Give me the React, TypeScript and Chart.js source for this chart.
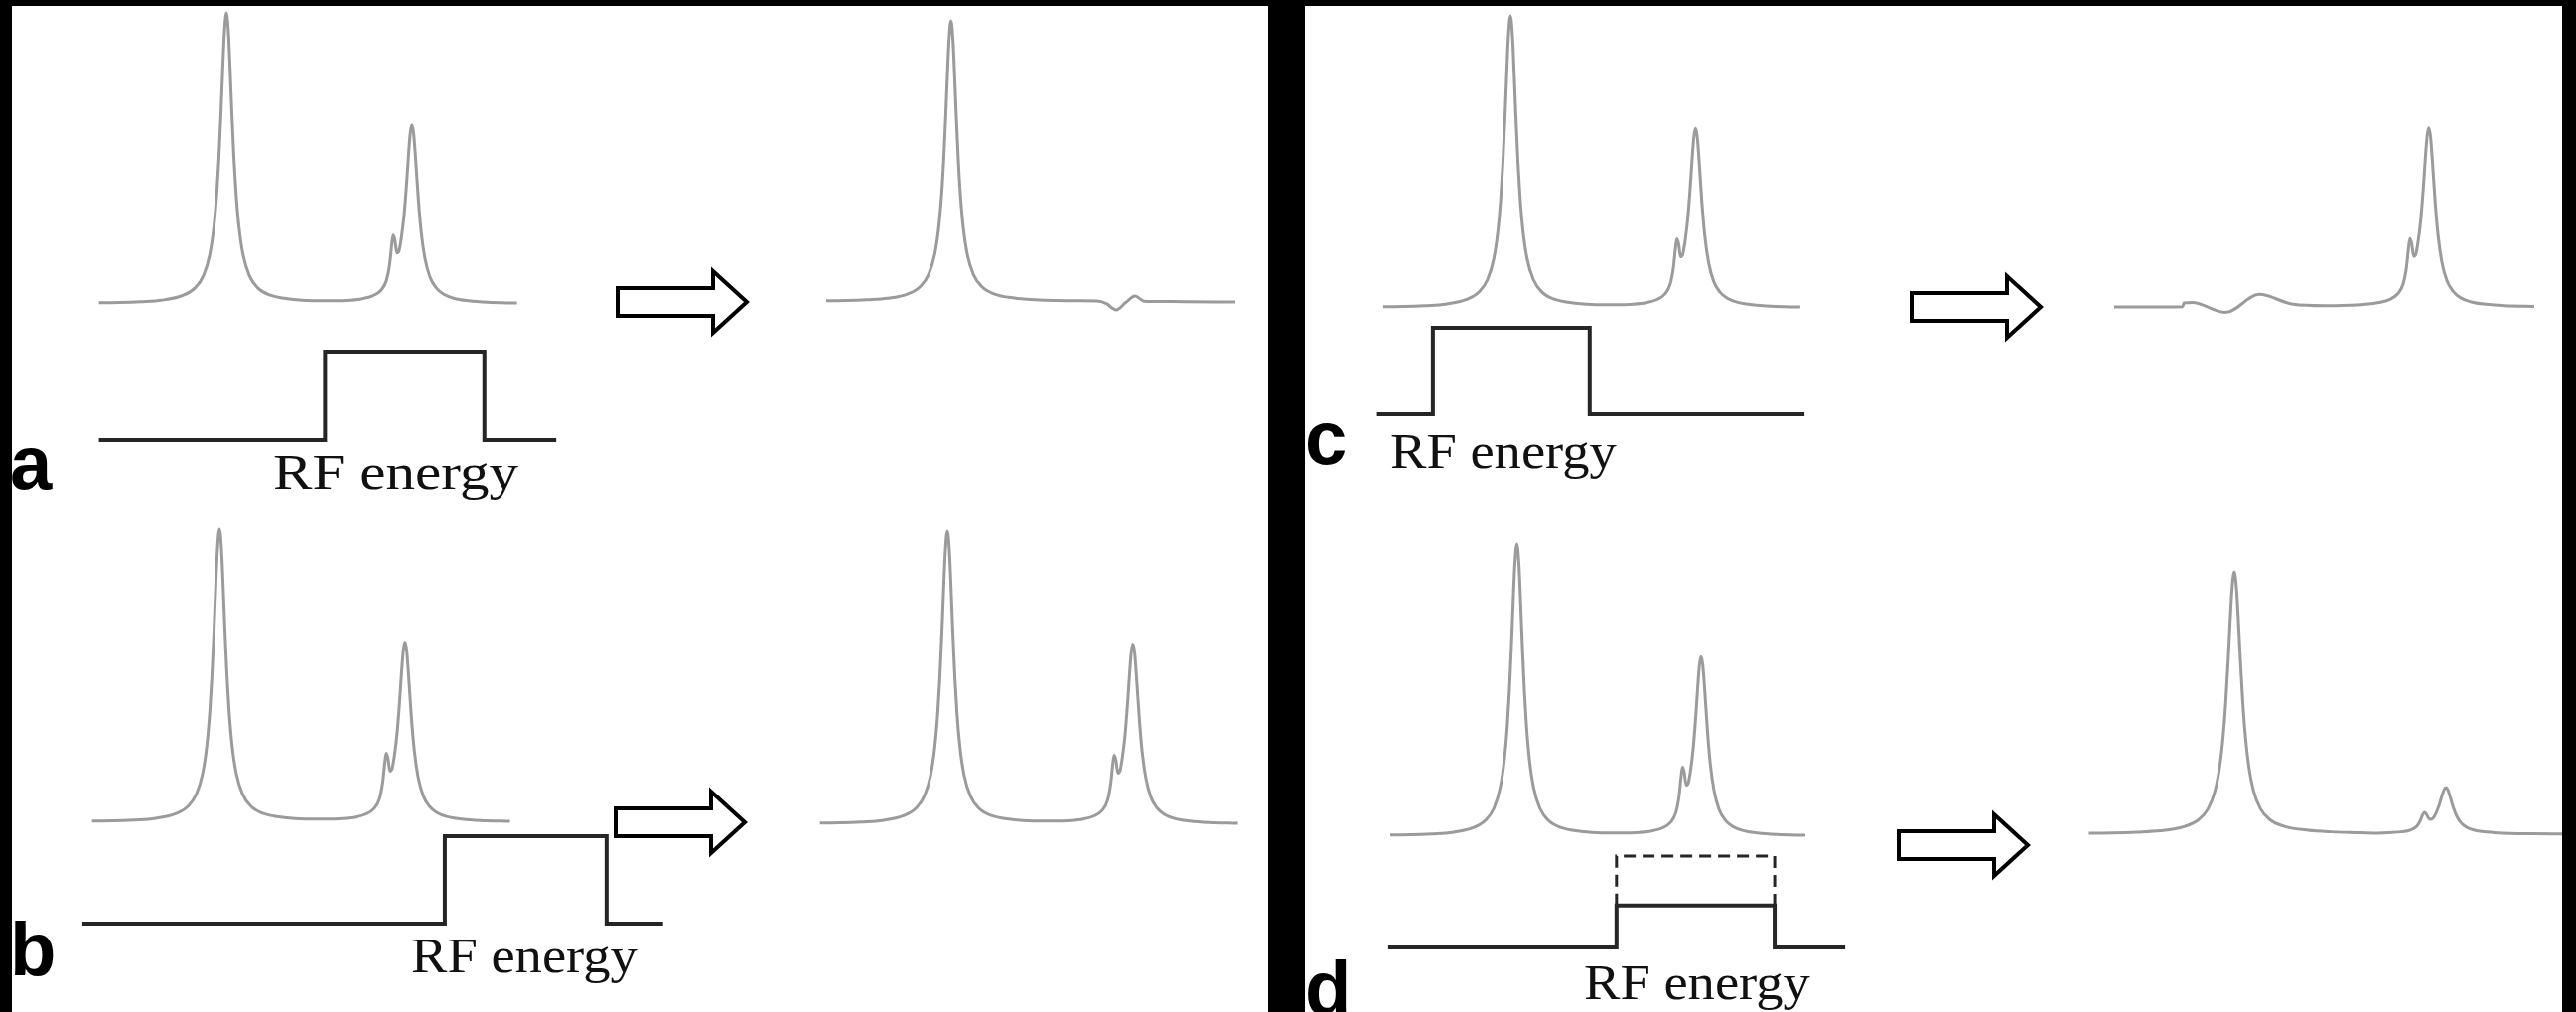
import React, { useEffect, useRef } from "react";
import { Chart, registerables } from "chart.js";

Chart.register(...registerables);

// ---------------- data ----------------
// Spectra: frequency (0–100 across each spectrum) vs signal (% of the tallest peak)
const ORIGINAL_X = [0, 5, 10, 15, 20, 23, 25, 26.5, 27.5, 28.2, 28.7, 29.2, 29.6, 30.0, 30.5, 31.0, 31.4, 31.8, 32.3, 32.8, 33.5, 34.5, 36, 38, 41, 46, 51, 56, 60, 63, 65.5, 67.5, 68.8, 69.6, 70.0, 70.4, 70.8, 71.3, 71.8, 72.4, 73.0, 73.6, 74.1, 74.5, 74.9, 75.3, 75.8, 76.4, 77.1, 78.0, 79.2, 80.7, 82.5, 85, 88.5, 93, 100];
const ORIGINAL_Y = [0.4, 0.5, 0.8, 1.3, 2.9, 5.5, 9.7, 16.8, 26.5, 38, 50, 65.7, 80, 92.8, 100, 92.8, 80, 65.7, 50, 38, 26.5, 16.8, 9.7, 5.5, 3.0, 1.6, 1.1, 1.1, 1.3, 1.8, 2.8, 4.7, 8.1, 14.0, 19.5, 23.6, 22.1, 17.5, 18.2, 23.1, 30.3, 41.1, 51.7, 58.8, 61.5, 58.5, 49.1, 36.3, 24.7, 15.6, 9.2, 5.5, 3.3, 1.9, 1.1, 0.6, 0.3];

const AFTER_A_X = [0, 5, 10, 15, 20, 23, 25, 26.5, 27.5, 28.2, 28.7, 29.2, 29.6, 30.0, 30.5, 31.0, 31.4, 31.8, 32.3, 32.8, 33.5, 34.5, 36, 38, 41, 46, 51, 56, 62, 66.7, 68.5, 70.9, 73.2, 75.5, 77.7, 80, 88, 100];
const AFTER_A_Y = [0.4, 0.5, 0.8, 1.3, 2.9, 5.5, 9.7, 16.8, 26.5, 38, 50, 65.7, 80, 92.8, 100, 92.8, 80, 65.7, 50, 38, 26.5, 16.8, 9.7, 5.5, 2.9, 1.4, 0.8, 0.5, 0.4, 0.3, -0.6, -2.8, -0.2, 2.1, 0.3, 0.2, 0.1, 0];

const AFTER_C_X = [0, 10, 16.3, 16.6, 18.6, 26.5, 34.5, 42.6, 50, 56, 60, 63, 65.5, 67.5, 68.8, 69.6, 70.0, 70.4, 70.8, 71.3, 71.8, 72.4, 73.0, 73.6, 74.1, 74.5, 74.9, 75.3, 75.8, 76.4, 77.1, 78.0, 79.2, 80.7, 82.5, 85, 88.5, 93, 100];
const AFTER_C_Y = [0, 0, 0.1, 1.4, 1.5, -1.9, 4.3, 0.9, 0.4, 0.6, 0.9, 1.5, 2.5, 4.5, 7.9, 13.8, 19.3, 23.4, 21.9, 17.3, 18.0, 22.9, 30.1, 40.9, 51.5, 58.6, 61.3, 58.3, 48.9, 36.1, 24.5, 15.4, 9.0, 5.3, 3.1, 1.7, 0.9, 0.4, 0.2];

const AFTER_D_Y = [0.4, 0.5, 0.8, 1.3, 2.9, 5.5, 9.7, 16.8, 26.5, 38, 50, 65.7, 80, 92.8, 100, 92.8, 80, 65.7, 50, 38, 26.5, 16.8, 9.7, 5.5, 3.0, 1.5, 0.9, 0.6, 0.4, 0.6, 0.9, 1.6, 3.0, 5.5, 7.3, 8.3, 7.7, 6.0, 5.7, 6.6, 8.8, 11.8, 14.9, 16.9, 17.8, 17.0, 14.2, 10.5, 7.2, 4.5, 2.7, 1.6, 1.0, 0.6, 0.3, 0.2, 0.1];

// RF pulses: frequency (same units as the spectra) vs RF amplitude
const PULSE_A_X = [0, 54.1, 54.1, 92.2, 92.2, 109.4];
const PULSE_B_X = [-2.3, 84.4, 84.4, 123.1, 123.1, 136.6];
const PULSE_C_X = [-1.5, 11.9, 11.9, 49.5, 49.5, 101.0];
const PULSE_D_X = [-0.5, 54.5, 54.5, 92.6, 92.6, 109.6];
const PULSE_LEVEL = [0, 0, 1, 1, 0, 0];
const PULSE_D_LEVEL = [0, 0, 0.46, 0.46, 0, 0];
const PULSE_D_FULL_X = [54.5, 54.5, 92.6, 92.6];
const PULSE_D_FULL_Y = [0.46, 1, 1, 0.46];

const PANEL_LABELS = ["a", "b", "c", "d"];
const PULSE_LABEL = "RF energy";

// ---------------- helpers ----------------
const pts = (xs: number[], ys: number[]) => xs.map((x, i) => ({ x, y: ys[i] }));

const SPEC_COLOR = "#9b9b9b";
const PULSE_COLOR = "#262626";

const spectrum = (xs: number[], ys: number[]) => ({
  data: pts(xs, ys),
  showLine: true,
  borderColor: SPEC_COLOR,
  borderWidth: 3,
  pointRadius: 0,
  cubicInterpolationMode: "monotone",
  clip: false,
  yAxisID: "y",
});

const pulse = (xs: number[], ys: number[], dashed = false) => ({
  data: pts(xs, ys),
  showLine: true,
  borderColor: PULSE_COLOR,
  borderWidth: dashed ? 3 : 4,
  borderDash: dashed ? [12, 7] : [],
  borderJoinStyle: "miter",
  borderCapStyle: "butt",
  pointRadius: 0,
  tension: 0,
  clip: false,
  yAxisID: "y2",
});

type Map1 = { px0: number; unit: number };
type Box = { left: number; top: number; width: number; height: number };
type PlotProps = { box: Box; xMap: Map1; yMap: Map1; y2Map?: Map1; datasets: any[] };

function Plot({ box, xMap, yMap, y2Map, datasets }: PlotProps) {
  const ref = useRef<HTMLCanvasElement>(null);
  useEffect(() => {
    const yr = (m: Map1) => ({
      min: (m.px0 - box.top - box.height) / m.unit,
      max: (m.px0 - box.top) / m.unit,
    });
    const scales: any = {
      x: {
        type: "linear",
        display: false,
        min: (box.left - xMap.px0) / xMap.unit,
        max: (box.left + box.width - xMap.px0) / xMap.unit,
      },
      y: { type: "linear", display: false, ...yr(yMap) },
    };
    if (y2Map) scales.y2 = { type: "linear", display: false, position: "right", ...yr(y2Map) };
    const chart = new Chart(ref.current as HTMLCanvasElement, {
      type: "scatter",
      data: { datasets },
      options: {
        animation: false,
        responsive: false,
        maintainAspectRatio: false,
        events: [],
        layout: { padding: 0 },
        scales,
        plugins: { legend: { display: false }, tooltip: { enabled: false } },
      } as any,
    } as any);
    return () => chart.destroy();
  }, []);
  return (
    <canvas
      ref={ref}
      width={box.width}
      height={box.height}
      style={{ position: "absolute", left: box.left, top: box.top, width: box.width, height: box.height }}
    />
  );
}

// ---------------- layout ----------------
const PLOTS: PlotProps[] = [
  // a: before
  {
    box: { left: 80, top: 0, width: 500, height: 460 },
    xMap: { px0: 99.6, unit: 4.21 },
    yMap: { px0: 306, unit: 2.93 },
    y2Map: { px0: 443, unit: 89 },
    datasets: [spectrum(ORIGINAL_X, ORIGINAL_Y), pulse(PULSE_A_X, PULSE_LEVEL)],
  },
  // a: after
  {
    box: { left: 815, top: 5, width: 450, height: 330 },
    xMap: { px0: 832, unit: 4.12 },
    yMap: { px0: 304, unit: 2.83 },
    datasets: [spectrum(AFTER_A_X, AFTER_A_Y)],
  },
  // b: before
  {
    box: { left: 70, top: 515, width: 620, height: 430 },
    xMap: { px0: 92.6, unit: 4.21 },
    yMap: { px0: 828, unit: 2.95 },
    y2Map: { px0: 930, unit: 88 },
    datasets: [spectrum(ORIGINAL_X, ORIGINAL_Y), pulse(PULSE_B_X, PULSE_LEVEL)],
  },
  // b: after
  {
    box: { left: 810, top: 520, width: 455, height: 330 },
    xMap: { px0: 825.6, unit: 4.21 },
    yMap: { px0: 830, unit: 2.95 },
    datasets: [spectrum(ORIGINAL_X, ORIGINAL_Y)],
  },
  // c: before
  {
    box: { left: 1370, top: 0, width: 470, height: 430 },
    xMap: { px0: 1392.9, unit: 4.2 },
    yMap: { px0: 310, unit: 2.94 },
    y2Map: { px0: 417, unit: 87 },
    datasets: [spectrum(ORIGINAL_X, ORIGINAL_Y), pulse(PULSE_C_X, PULSE_LEVEL)],
  },
  // c: after
  {
    box: { left: 2110, top: 110, width: 460, height: 220 },
    xMap: { px0: 2129, unit: 4.23 },
    yMap: { px0: 309, unit: 2.94 },
    datasets: [spectrum(AFTER_C_X, AFTER_C_Y)],
  },
  // d: before
  {
    box: { left: 1380, top: 530, width: 500, height: 440 },
    xMap: { px0: 1400, unit: 4.18 },
    yMap: { px0: 842, unit: 2.94 },
    y2Map: { px0: 954, unit: 92 },
    datasets: [
      spectrum(ORIGINAL_X, ORIGINAL_Y),
      pulse(PULSE_D_X, PULSE_D_LEVEL),
      pulse(PULSE_D_FULL_X, PULSE_D_FULL_Y, true),
    ],
  },
  // d: after
  {
    box: { left: 2085, top: 560, width: 520, height: 300 },
    xMap: { px0: 2103.5, unit: 4.8 },
    yMap: { px0: 840, unit: 2.64 },
    datasets: [spectrum(ORIGINAL_X, AFTER_D_Y)],
  },
];

const ARROWS = [
  { left: 622, mid: 304 },
  { left: 620, mid: 828 },
  { left: 1925, mid: 309 },
  { left: 1912, mid: 851 },
];

const RF_LABELS = [
  { left: 275, capTop: 459, stretch: 1.16 },
  { left: 414, capTop: 946, stretch: 1.07 },
  { left: 1400, capTop: 438, stretch: 1.07 },
  { left: 1595, capTop: 973, stretch: 1.07 },
];

const LETTERS = [
  { left: 10, baseline: 492 },
  { left: 10, baseline: 982 },
  { left: 1314, baseline: 467 },
  { left: 1314, baseline: 1021 },
];

function arrowPoints(left: number, mid: number) {
  const len = 130, shaft = 14, head = 31, headLen = 34;
  const hx = left + len - headLen;
  return [
    [left, mid - shaft],
    [hx, mid - shaft],
    [hx, mid - head],
    [left + len, mid],
    [hx, mid + head],
    [hx, mid + shaft],
    [left, mid + shaft],
  ]
    .map((p) => p.join(","))
    .join(" ");
}

export default function App() {
  return (
    <div
      style={{
        position: "absolute",
        left: 0,
        top: 0,
        width: 2594,
        height: 1019,
        overflow: "hidden",
        background: "#ffffff",
      }}
    >
      {PLOTS.map((p, i) => (
        <Plot key={i} {...p} />
      ))}
      <svg width={2594} height={1019} style={{ position: "absolute", left: 0, top: 0 }}>
        {ARROWS.map((a, i) => (
          <polygon
            key={i}
            points={arrowPoints(a.left, a.mid)}
            fill="#ffffff"
            stroke="#000000"
            strokeWidth={4}
            strokeLinejoin="miter"
          />
        ))}
      </svg>
      {RF_LABELS.map((r, i) => (
        <div
          key={"rf" + i}
          style={{
            position: "absolute",
            left: r.left,
            top: r.capTop - 9,
            fontFamily: "'Liberation Serif', 'Times New Roman', serif",
            fontSize: 51,
            lineHeight: 1,
            color: "#111111",
            whiteSpace: "nowrap",
            transform: `scaleX(${r.stretch})`,
            transformOrigin: "left top",
          }}
        >
          {PULSE_LABEL}
        </div>
      ))}
      {LETTERS.map((l, i) => (
        <div
          key={"lt" + i}
          style={{
            position: "absolute",
            left: l.left,
            top: l.baseline - 64,
            fontFamily: "'Liberation Sans', Arial, sans-serif",
            fontWeight: 700,
            fontSize: 76,
            lineHeight: 1,
            color: "#000000",
          }}
        >
          {PANEL_LABELS[i]}
        </div>
      ))}
      {/* black frame */}
      <div style={{ position: "absolute", left: 0, top: 0, width: 2594, height: 6, background: "#000" }} />
      <div style={{ position: "absolute", left: 0, top: 0, width: 12, height: 1019, background: "#000" }} />
      <div style={{ position: "absolute", left: 1277, top: 0, width: 37, height: 1019, background: "#000" }} />
      <div style={{ position: "absolute", left: 2580, top: 0, width: 14, height: 1019, background: "#000" }} />
    </div>
  );
}
